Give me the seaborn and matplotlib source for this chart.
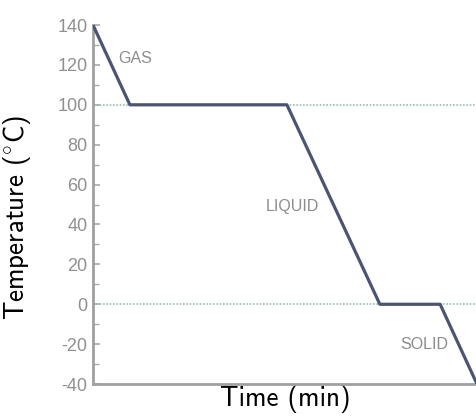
import numpy as np
import pandas as pd
import matplotlib as mpl
mpl.use('Agg')
import matplotlib.pyplot as plt
import seaborn as sns
from matplotlib.ticker import MultipleLocator

# heating/cooling curve
time_min = [0, 9.6, 50.5, 74.7, 90.4, 100]
temp_c = [140, 100, 100, 0, 0, -40]
phase_names = ['GAS', 'LIQUID', 'SOLID']
phase_x = [6.5, 45, 80]
phase_y = [123, 49, -20]
transition_temps = [100, 0]

df = pd.DataFrame({'Time': time_min, 'Temperature': temp_c})

sns.set_style('white')
plt.rcParams['mathtext.fontset'] = 'cm'
plt.rcParams['axes.unicode_minus'] = False

fig = plt.figure(figsize=(4.77, 4.17), dpi=100)
ax = fig.add_axes([0.195, 0.079, 0.805, 0.861])

for t in transition_temps:
    ax.axhline(t, color='#8fc4a8', lw=1.2, ls=(0, (1, 1)), zorder=1)

sns.lineplot(data=df, x='Time', y='Temperature', ax=ax, color='#4b5572',
             lw=2.3, zorder=3)

for name, x, y in zip(phase_names, phase_x, phase_y):
    ax.text(x, y, name, color='#8c8c8c', fontsize=11.5, ha='left', va='center',
            family='Liberation Sans')

ax.set_xlim(0, 100)
ax.set_ylim(-40, 140)
ax.yaxis.set_major_locator(MultipleLocator(20))
ax.yaxis.set_minor_locator(MultipleLocator(10))
ax.set_xticks([])
ax.tick_params(axis='y', which='both', direction='in', color='#a8a8a8',
               labelcolor='#909090', labelsize=13, left=True)
ax.tick_params(axis='y', which='major', length=5, width=1.2, pad=4)
ax.tick_params(axis='y', which='minor', length=4, width=1)
for lab in ax.get_yticklabels():
    lab.set_family('Liberation Sans')

for s in ['top', 'right']:
    ax.spines[s].set_visible(False)
for s in ['left', 'bottom']:
    ax.spines[s].set_color('#a0a0a0')
    ax.spines[s].set_linewidth(2)

ax.set_xlabel('Time (min)', family='cmss10', fontsize=19.5, color='black', labelpad=1)
ax.set_ylabel(r'Temperature ($^{\circ}$C)', family='cmss10', fontsize=19.5,
              color='black')
ax.yaxis.set_label_coords(-0.155, 0.465)

fig.savefig('out.png', dpi=100)
